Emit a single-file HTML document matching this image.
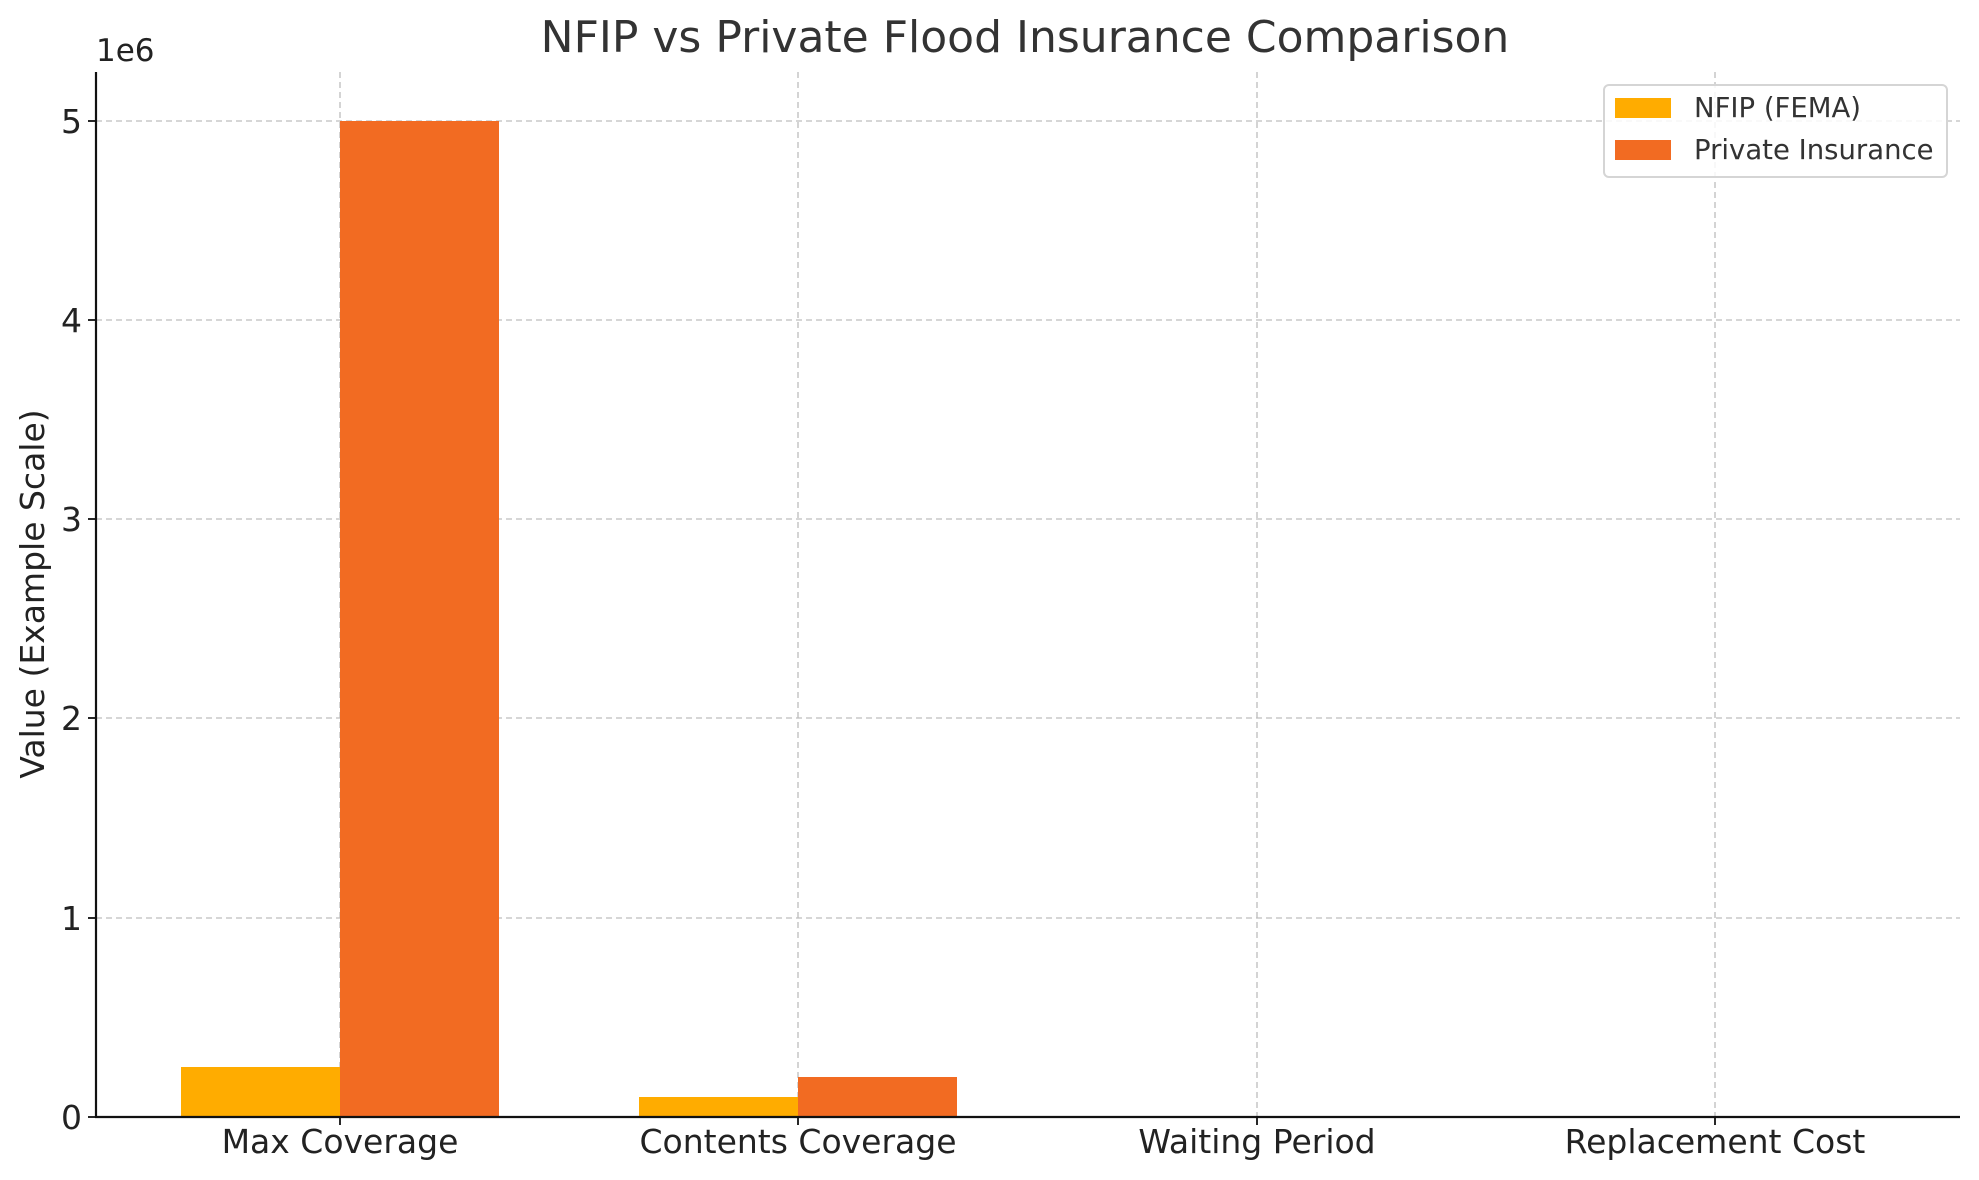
<!DOCTYPE html>
<html><head><meta charset="utf-8"><style>body{margin:0;background:#fff}svg{display:block}</style></head><body>
<svg width="1979" height="1180" xmlns="http://www.w3.org/2000/svg" font-family="DejaVu Sans, Liberation Sans, sans-serif" fill="#222">
<g stroke="#bdbdbd" stroke-width="1.3" stroke-dasharray="6,4">
<line x1="96" x2="1960" y1="121" y2="121"/><line x1="96" x2="1960" y1="320" y2="320"/><line x1="96" x2="1960" y1="519" y2="519"/><line x1="96" x2="1960" y1="718" y2="718"/><line x1="96" x2="1960" y1="918" y2="918"/>
<line x1="340" x2="340" y1="72" y2="1117"/><line x1="798" x2="798" y1="72" y2="1117"/><line x1="1257" x2="1257" y1="72" y2="1117"/><line x1="1715" x2="1715" y1="72" y2="1117"/>
</g>
<rect x="181" y="1067" width="159" height="50" fill="#ffac00"/>
<rect x="340" y="121" width="159" height="996" fill="#f26b22"/>
<rect x="639" y="1097" width="159" height="20" fill="#ffac00"/>
<rect x="798" y="1077" width="159" height="40" fill="#f26b22"/>
<g stroke="#111" stroke-width="2.2" fill="none"><line x1="96" y1="72" x2="96" y2="1118"/><line x1="95" y1="1117" x2="1960" y2="1117"/></g>
<g stroke="#111" stroke-width="1.8">
<line x1="88" x2="96" y1="121" y2="121"/><line x1="88" x2="96" y1="320" y2="320"/><line x1="88" x2="96" y1="519" y2="519"/><line x1="88" x2="96" y1="718" y2="718"/><line x1="88" x2="96" y1="918" y2="918"/><line x1="88" x2="96" y1="1117" y2="1117"/>
<line x1="340" x2="340" y1="1117" y2="1125"/><line x1="798" x2="798" y1="1117" y2="1125"/><line x1="1257" x2="1257" y1="1117" y2="1125"/><line x1="1715" x2="1715" y1="1117" y2="1125"/>
</g>
<g font-size="33" text-anchor="end">
<text x="82" y="133">5</text><text x="82" y="332">4</text><text x="82" y="531">3</text><text x="82" y="730">2</text><text x="82" y="930">1</text><text x="82" y="1129">0</text>
</g>
<text x="96" y="61" font-size="31">1e6</text>
<g font-size="33" text-anchor="middle">
<text x="340" y="1153">Max Coverage</text><text x="798" y="1153">Contents Coverage</text><text x="1257" y="1153">Waiting Period</text><text x="1715" y="1153">Replacement Cost</text>
</g>
<text x="1025" y="52" font-size="44" text-anchor="middle" fill="#333">NFIP vs Private Flood Insurance Comparison</text>
<text transform="translate(44,594) rotate(-90)" font-size="33" text-anchor="middle">Value (Example Scale)</text>
<rect x="1604" y="85" width="343" height="92" rx="5" fill="#fff" fill-opacity="0.85" stroke="#d5d5d5" stroke-width="2"/>
<rect x="1615" y="98" width="56" height="20" fill="#ffac00"/>
<rect x="1615" y="140" width="56" height="20" fill="#f26b22"/>
<text x="1694" y="117" font-size="27.5" fill="#333">NFIP (FEMA)</text>
<text x="1694" y="159" font-size="27.5" fill="#333">Private Insurance</text>
</svg>
</body></html>
